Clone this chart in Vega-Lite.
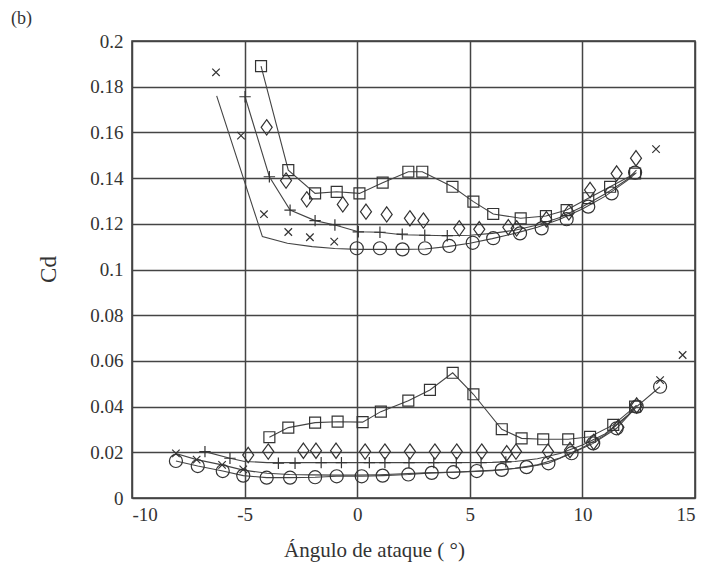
{
  "$schema": "https://vega.github.io/schema/vega-lite/v6.json",
  "width": 563,
  "height": 457,
  "autosize": "none",
  "padding": {"left": 132, "top": 41, "right": 12, "bottom": 82},
  "background": "white",
  "title": {"text": "(b)", "anchor": "start", "frame": "group", "dx": -121, "offset": 4, "fontSize": 18, "fontWeight": "normal", "font": "Liberation Serif", "color": "#333"},
  "config": {
    "font": "Liberation Serif",
    "view": {"stroke": "#333", "strokeWidth": 1.5},
    "axis": {"grid": true, "gridColor": "#444", "gridWidth": 1.5, "domain": false, "ticks": false, "labelFontSize": 19, "labelColor": "#333", "titleFontSize": 21, "titleFontWeight": "normal", "titleColor": "#333", "labelFont": "Liberation Serif", "titleFont": "Liberation Serif"}
  },
  "datasets": {
    "pts": [
      {"s": "sq", "x": -4.27, "y": 0.189}, {"s": "sq", "x": -3.06, "y": 0.1435}, {"s": "sq", "x": -1.87, "y": 0.1333}, {"s": "sq", "x": -0.91, "y": 0.134}, {"s": "sq", "x": 0.1, "y": 0.1333}, {"s": "sq", "x": 1.13, "y": 0.138}, {"s": "sq", "x": 2.27, "y": 0.1428}, {"s": "sq", "x": 2.89, "y": 0.1428}, {"s": "sq", "x": 4.23, "y": 0.1362}, {"s": "sq", "x": 5.16, "y": 0.1297}, {"s": "sq", "x": 6.04, "y": 0.1243}, {"s": "sq", "x": 7.26, "y": 0.1224}, {"s": "sq", "x": 8.38, "y": 0.1234}, {"s": "sq", "x": 9.3, "y": 0.126}, {"s": "sq", "x": 10.26, "y": 0.1312}, {"s": "sq", "x": 11.23, "y": 0.1362}, {"s": "sq", "x": 12.34, "y": 0.142},
      {"s": "di", "x": -4.02, "y": 0.1622}, {"s": "di", "x": -3.16, "y": 0.1389}, {"s": "di", "x": -2.24, "y": 0.1307}, {"s": "di", "x": -0.64, "y": 0.1285}, {"s": "di", "x": 0.39, "y": 0.1253}, {"s": "di", "x": 1.31, "y": 0.1241}, {"s": "di", "x": 2.34, "y": 0.1224}, {"s": "di", "x": 2.94, "y": 0.1214}, {"s": "di", "x": 4.53, "y": 0.118}, {"s": "di", "x": 5.42, "y": 0.1176}, {"s": "di", "x": 6.71, "y": 0.1185}, {"s": "di", "x": 7.08, "y": 0.118}, {"s": "di", "x": 8.4, "y": 0.122}, {"s": "di", "x": 9.4, "y": 0.125}, {"s": "di", "x": 10.34, "y": 0.1348}, {"s": "di", "x": 11.52, "y": 0.142}, {"s": "di", "x": 12.38, "y": 0.1487},
      {"s": "ci", "x": -0.02, "y": 0.1093}, {"s": "ci", "x": 1.01, "y": 0.1093}, {"s": "ci", "x": 2.01, "y": 0.1088}, {"s": "ci", "x": 3.01, "y": 0.1093}, {"s": "ci", "x": 4.09, "y": 0.1103}, {"s": "ci", "x": 5.13, "y": 0.1117}, {"s": "ci", "x": 6.04, "y": 0.1137}, {"s": "ci", "x": 7.23, "y": 0.1158}, {"s": "ci", "x": 8.19, "y": 0.118}, {"s": "ci", "x": 9.3, "y": 0.122}, {"s": "ci", "x": 10.26, "y": 0.1275}, {"s": "ci", "x": 11.3, "y": 0.1333}, {"s": "ci", "x": 12.34, "y": 0.1424},
      {"s": "pl", "x": -4.98, "y": 0.1756}, {"s": "pl", "x": -3.9, "y": 0.1406}, {"s": "pl", "x": -2.98, "y": 0.126}, {"s": "pl", "x": -1.87, "y": 0.1214}, {"s": "pl", "x": -0.99, "y": 0.1195}, {"s": "pl", "x": 0.05, "y": 0.1165}, {"s": "pl", "x": 1.01, "y": 0.1163}, {"s": "pl", "x": 2.0, "y": 0.1155}, {"s": "pl", "x": 3.0, "y": 0.115}, {"s": "pl", "x": 4.0, "y": 0.1148},
      {"s": "xx", "x": -6.27, "y": 0.1863}, {"s": "xx", "x": -5.16, "y": 0.1586}, {"s": "xx", "x": -4.14, "y": 0.1242}, {"s": "xx", "x": -3.06, "y": 0.1164}, {"s": "xx", "x": -2.1, "y": 0.1141}, {"s": "xx", "x": -1.02, "y": 0.1122}, {"s": "xx", "x": 13.27, "y": 0.1527},
      {"s": "sq", "x": -3.9, "y": 0.0266}, {"s": "sq", "x": -3.06, "y": 0.0308}, {"s": "sq", "x": -1.87, "y": 0.033}, {"s": "sq", "x": -0.87, "y": 0.0334}, {"s": "sq", "x": 0.24, "y": 0.0332}, {"s": "sq", "x": 1.05, "y": 0.0378}, {"s": "sq", "x": 2.27, "y": 0.0426}, {"s": "sq", "x": 3.23, "y": 0.0473}, {"s": "sq", "x": 4.24, "y": 0.0548}, {"s": "sq", "x": 5.16, "y": 0.0454}, {"s": "sq", "x": 6.42, "y": 0.0301}, {"s": "sq", "x": 7.3, "y": 0.0261}, {"s": "sq", "x": 8.26, "y": 0.0257}, {"s": "sq", "x": 9.37, "y": 0.0257}, {"s": "sq", "x": 10.34, "y": 0.0268}, {"s": "sq", "x": 11.37, "y": 0.032}, {"s": "sq", "x": 12.34, "y": 0.04},
      {"s": "di", "x": -4.84, "y": 0.0188}, {"s": "di", "x": -3.95, "y": 0.0203}, {"s": "di", "x": -2.39, "y": 0.0207}, {"s": "di", "x": -1.83, "y": 0.0207}, {"s": "di", "x": -0.94, "y": 0.0207}, {"s": "di", "x": 0.35, "y": 0.0203}, {"s": "di", "x": 1.23, "y": 0.0203}, {"s": "di", "x": 2.34, "y": 0.0203}, {"s": "di", "x": 3.45, "y": 0.0203}, {"s": "di", "x": 4.42, "y": 0.0203}, {"s": "di", "x": 5.53, "y": 0.0203}, {"s": "di", "x": 6.64, "y": 0.0196}, {"s": "di", "x": 7.05, "y": 0.0203}, {"s": "di", "x": 8.47, "y": 0.0203}, {"s": "di", "x": 9.45, "y": 0.021}, {"s": "di", "x": 10.5, "y": 0.0245}, {"s": "di", "x": 11.6, "y": 0.031}, {"s": "di", "x": 12.41, "y": 0.0405},
      {"s": "ci", "x": -8.05, "y": 0.0162}, {"s": "ci", "x": -7.08, "y": 0.014}, {"s": "ci", "x": -5.97, "y": 0.0118}, {"s": "ci", "x": -5.06, "y": 0.0098}, {"s": "ci", "x": -4.02, "y": 0.0089}, {"s": "ci", "x": -2.98, "y": 0.0089}, {"s": "ci", "x": -1.87, "y": 0.0091}, {"s": "ci", "x": -0.91, "y": 0.0095}, {"s": "ci", "x": 0.2, "y": 0.0095}, {"s": "ci", "x": 1.13, "y": 0.0098}, {"s": "ci", "x": 2.27, "y": 0.0103}, {"s": "ci", "x": 3.31, "y": 0.011}, {"s": "ci", "x": 4.27, "y": 0.0113}, {"s": "ci", "x": 5.31, "y": 0.0118}, {"s": "ci", "x": 6.42, "y": 0.0123}, {"s": "ci", "x": 7.52, "y": 0.0135}, {"s": "ci", "x": 8.49, "y": 0.0152}, {"s": "ci", "x": 9.52, "y": 0.0196}, {"s": "ci", "x": 10.48, "y": 0.0239}, {"s": "ci", "x": 11.52, "y": 0.0305}, {"s": "ci", "x": 12.41, "y": 0.04}, {"s": "ci", "x": 13.45, "y": 0.0487},
      {"s": "pl", "x": -6.76, "y": 0.0203}, {"s": "pl", "x": -5.65, "y": 0.0174}, {"s": "pl", "x": -3.5, "y": 0.0152}, {"s": "pl", "x": -2.76, "y": 0.0152}, {"s": "pl", "x": -1.6, "y": 0.0155}, {"s": "pl", "x": -0.7, "y": 0.0155}, {"s": "pl", "x": 0.54, "y": 0.0155}, {"s": "pl", "x": 1.23, "y": 0.0155}, {"s": "pl", "x": 2.3, "y": 0.0155}, {"s": "pl", "x": 3.4, "y": 0.0155}, {"s": "pl", "x": 4.4, "y": 0.0155}, {"s": "pl", "x": 5.5, "y": 0.0155}, {"s": "pl", "x": 6.6, "y": 0.0158},
      {"s": "xx", "x": -8.05, "y": 0.0195}, {"s": "xx", "x": -7.13, "y": 0.0168}, {"s": "xx", "x": -6.0, "y": 0.0145}, {"s": "xx", "x": -5.06, "y": 0.0125}, {"s": "xx", "x": 13.45, "y": 0.0516}, {"s": "xx", "x": 14.45, "y": 0.0626}
    ],
    "lines": [
      {"l": "uA", "x": -6.24, "y": 0.176}, {"l": "uA", "x": -4.21, "y": 0.1144}, {"l": "uA", "x": -3.1, "y": 0.1115}, {"l": "uA", "x": -2, "y": 0.11}, {"l": "uA", "x": -1, "y": 0.1092}, {"l": "uA", "x": 0, "y": 0.1088}, {"l": "uA", "x": 1, "y": 0.1088}, {"l": "uA", "x": 2, "y": 0.1088}, {"l": "uA", "x": 3, "y": 0.109}, {"l": "uA", "x": 4, "y": 0.11}, {"l": "uA", "x": 5, "y": 0.1115}, {"l": "uA", "x": 6, "y": 0.1135}, {"l": "uA", "x": 7, "y": 0.1158}, {"l": "uA", "x": 8, "y": 0.1185}, {"l": "uA", "x": 9, "y": 0.122}, {"l": "uA", "x": 10, "y": 0.1265}, {"l": "uA", "x": 11, "y": 0.132}, {"l": "uA", "x": 12, "y": 0.139}, {"l": "uA", "x": 12.4, "y": 0.1424},
      {"l": "uB", "x": -4.98, "y": 0.1756}, {"l": "uB", "x": -3.9, "y": 0.1406}, {"l": "uB", "x": -2.98, "y": 0.126}, {"l": "uB", "x": -1.87, "y": 0.1214}, {"l": "uB", "x": -0.99, "y": 0.1195}, {"l": "uB", "x": 0.05, "y": 0.1165}, {"l": "uB", "x": 1.01, "y": 0.1163}, {"l": "uB", "x": 2, "y": 0.1152}, {"l": "uB", "x": 3, "y": 0.115}, {"l": "uB", "x": 4, "y": 0.1148}, {"l": "uB", "x": 5, "y": 0.115}, {"l": "uB", "x": 6, "y": 0.1158}, {"l": "uB", "x": 7, "y": 0.1172}, {"l": "uB", "x": 8, "y": 0.1195}, {"l": "uB", "x": 9, "y": 0.1228}, {"l": "uB", "x": 10, "y": 0.1275}, {"l": "uB", "x": 11, "y": 0.133}, {"l": "uB", "x": 12, "y": 0.1395}, {"l": "uB", "x": 12.4, "y": 0.1435},
      {"l": "uC", "x": -4.27, "y": 0.189}, {"l": "uC", "x": -3.06, "y": 0.1435}, {"l": "uC", "x": -1.87, "y": 0.1333}, {"l": "uC", "x": -0.91, "y": 0.134}, {"l": "uC", "x": 0.1, "y": 0.1333}, {"l": "uC", "x": 1.13, "y": 0.138}, {"l": "uC", "x": 2.27, "y": 0.1428}, {"l": "uC", "x": 2.89, "y": 0.1428}, {"l": "uC", "x": 4.23, "y": 0.1362}, {"l": "uC", "x": 5.16, "y": 0.1297}, {"l": "uC", "x": 6.04, "y": 0.1243}, {"l": "uC", "x": 7.26, "y": 0.1224}, {"l": "uC", "x": 8.38, "y": 0.1234}, {"l": "uC", "x": 9.3, "y": 0.126}, {"l": "uC", "x": 10.26, "y": 0.1312}, {"l": "uC", "x": 11.23, "y": 0.1362}, {"l": "uC", "x": 12.34, "y": 0.142},
      {"l": "lS", "x": -3.9, "y": 0.0266}, {"l": "lS", "x": -3.06, "y": 0.0308}, {"l": "lS", "x": -1.87, "y": 0.033}, {"l": "lS", "x": -0.87, "y": 0.0334}, {"l": "lS", "x": 0.24, "y": 0.0332}, {"l": "lS", "x": 1.05, "y": 0.0378}, {"l": "lS", "x": 2.27, "y": 0.0426}, {"l": "lS", "x": 3.23, "y": 0.0473}, {"l": "lS", "x": 4.24, "y": 0.0548}, {"l": "lS", "x": 5.16, "y": 0.0454}, {"l": "lS", "x": 6.42, "y": 0.0301}, {"l": "lS", "x": 7.3, "y": 0.0261}, {"l": "lS", "x": 8.26, "y": 0.0257}, {"l": "lS", "x": 9.37, "y": 0.0257}, {"l": "lS", "x": 10.34, "y": 0.0268}, {"l": "lS", "x": 11.37, "y": 0.032}, {"l": "lS", "x": 12.34, "y": 0.04},
      {"l": "lC", "x": -8.05, "y": 0.0162}, {"l": "lC", "x": -7.08, "y": 0.014}, {"l": "lC", "x": -5.97, "y": 0.0118}, {"l": "lC", "x": -5.06, "y": 0.0098}, {"l": "lC", "x": -4.02, "y": 0.0089}, {"l": "lC", "x": -2.98, "y": 0.0089}, {"l": "lC", "x": -1.87, "y": 0.0091}, {"l": "lC", "x": -0.91, "y": 0.0095}, {"l": "lC", "x": 0.2, "y": 0.0095}, {"l": "lC", "x": 1.13, "y": 0.0098}, {"l": "lC", "x": 2.27, "y": 0.0103}, {"l": "lC", "x": 3.31, "y": 0.011}, {"l": "lC", "x": 4.27, "y": 0.0113}, {"l": "lC", "x": 5.31, "y": 0.0118}, {"l": "lC", "x": 6.42, "y": 0.0123}, {"l": "lC", "x": 7.52, "y": 0.0135}, {"l": "lC", "x": 8.49, "y": 0.0152}, {"l": "lC", "x": 9.52, "y": 0.0196}, {"l": "lC", "x": 10.48, "y": 0.0239}, {"l": "lC", "x": 11.52, "y": 0.0305}, {"l": "lC", "x": 12.41, "y": 0.04}, {"l": "lC", "x": 13.45, "y": 0.0487},
      {"l": "lP", "x": -6.76, "y": 0.0203}, {"l": "lP", "x": -5.65, "y": 0.0174}, {"l": "lP", "x": -5, "y": 0.016}, {"l": "lP", "x": -4, "y": 0.0155}, {"l": "lP", "x": -2, "y": 0.0155}, {"l": "lP", "x": 0, "y": 0.0155}, {"l": "lP", "x": 2, "y": 0.0155}, {"l": "lP", "x": 4, "y": 0.0155}, {"l": "lP", "x": 6, "y": 0.0156}, {"l": "lP", "x": 7, "y": 0.016}, {"l": "lP", "x": 8, "y": 0.0172}, {"l": "lP", "x": 9, "y": 0.0195}, {"l": "lP", "x": 10, "y": 0.0232}, {"l": "lP", "x": 11, "y": 0.028}, {"l": "lP", "x": 12, "y": 0.036}, {"l": "lP", "x": 12.4, "y": 0.0405},
      {"l": "lX", "x": -8.05, "y": 0.0195}, {"l": "lX", "x": -7.13, "y": 0.0168}, {"l": "lX", "x": -6, "y": 0.0145}, {"l": "lX", "x": -5.06, "y": 0.0122}, {"l": "lX", "x": -4, "y": 0.0108}, {"l": "lX", "x": -3, "y": 0.0103}, {"l": "lX", "x": -2, "y": 0.0101}, {"l": "lX", "x": -1, "y": 0.01}, {"l": "lX", "x": 0, "y": 0.01}, {"l": "lX", "x": 1, "y": 0.0102}, {"l": "lX", "x": 2, "y": 0.0106}, {"l": "lX", "x": 3, "y": 0.011}, {"l": "lX", "x": 4, "y": 0.0112}, {"l": "lX", "x": 5, "y": 0.0115}, {"l": "lX", "x": 6, "y": 0.012}, {"l": "lX", "x": 7, "y": 0.013}, {"l": "lX", "x": 8, "y": 0.0145}, {"l": "lX", "x": 9, "y": 0.0175}, {"l": "lX", "x": 10, "y": 0.022}, {"l": "lX", "x": 11, "y": 0.0275}, {"l": "lX", "x": 12, "y": 0.036}, {"l": "lX", "x": 12.4, "y": 0.0405}
    ]
  },
  "encoding": {
    "x": {"field": "x", "type": "quantitative", "scale": {"domain": [-10, 15], "nice": false},
      "axis": {"values": [-10, -5, 0, 5, 10, 15], "labelExpr": "'' + datum.value", "labelPadding": 7, "title": "Ángulo de ataque ( °)", "titleX": 242, "titleY": 52, "titleBaseline": "middle"}},
    "y": {"field": "y", "type": "quantitative", "scale": {"domain": [0, 0.2], "nice": false},
      "axis": {"values": [0, 0.02, 0.04, 0.06, 0.08, 0.1, 0.12, 0.14, 0.16, 0.18, 0.2], "format": "~g", "labelPadding": 9, "title": "Cd", "titleFontSize": 23, "titleX": -84, "titleY": 228, "titleAngle": -90, "titleBaseline": "middle", "titleAlign": "center"}}
  },
  "layer": [
    {
      "data": {"name": "lines"},
      "mark": {"type": "line", "color": "#444", "strokeWidth": 1.1},
      "encoding": {"detail": {"field": "l", "type": "nominal"}}
    },
    {
      "data": {"name": "pts"},
      "mark": {"type": "point", "filled": false, "color": "#333", "strokeWidth": 1.2, "opacity": 1},
      "encoding": {
        "shape": {"field": "s", "type": "nominal", "legend": null, "scale": {"domain": ["sq", "di", "ci", "pl", "xx"], "range": ["square", "M0,-1.25L0.9,0L0,1.25L-0.9,0Z", "circle", "M-1,0L1,0M0,-1L0,1", "M-1,-1L1,1M-1,1L1,-1"]}},
        "size": {"field": "s", "type": "nominal", "legend": null, "scale": {"type": "ordinal", "domain": ["sq", "di", "ci", "pl", "xx"], "range": [120, 150, 170, 130, 56]}}
      }
    }
  ]
}
